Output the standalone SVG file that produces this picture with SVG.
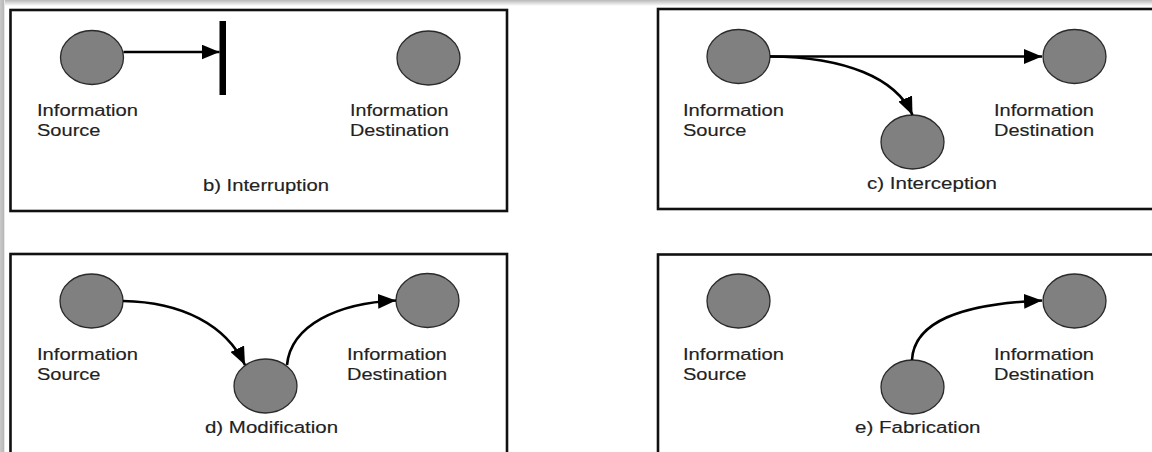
<svg xmlns="http://www.w3.org/2000/svg" width="1152" height="452" viewBox="0 0 1152 452">
  <defs>
    <linearGradient id="topShade" x1="0" y1="0" x2="0" y2="1">
      <stop offset="0" stop-color="#b8b8b8"/>
      <stop offset="1" stop-color="#ffffff"/>
    </linearGradient>
    <linearGradient id="leftShade" x1="0" y1="0" x2="1" y2="0">
      <stop offset="0" stop-color="#c9c9c9"/>
      <stop offset="0.7" stop-color="#b9b9b9"/>
      <stop offset="1" stop-color="#ffffff"/>
    </linearGradient>
    <marker id="arrow" markerUnits="userSpaceOnUse" markerWidth="19" markerHeight="15" refX="18" refY="7.5" orient="auto">
      <path d="M0,0 L18,7.5 L0,15 z" fill="#000"/>
    </marker>
    <style>
      .panel { fill: #ffffff; stroke: #111111; stroke-width: 2.6; }
      .node { fill: #808080; stroke: #2a2a2a; stroke-width: 1.3; }
      .edge { fill: none; stroke: #000000; stroke-width: 2.6; marker-end: url(#arrow); }
      .lbl { font-family: "Liberation Sans", Arial, sans-serif; font-size: 16px; fill: #222222; stroke: #222222; stroke-width: 0.15; }
    </style>
  </defs>

  <!-- page background with soft edge shading -->
  <rect x="0" y="0" width="1152" height="452" fill="#ffffff"/>
  <rect x="0" y="0" width="1152" height="6" fill="url(#topShade)"/>
  <rect x="0" y="0" width="5" height="452" fill="url(#leftShade)"/>

  <!-- panel frames -->
  <g id="panels">
    <rect class="panel" x="10.5" y="10" width="496.5" height="201"/>
    <rect class="panel" x="658" y="9" width="520" height="200"/>
    <rect class="panel" x="10.5" y="254" width="496.5" height="220"/>
    <rect class="panel" x="658" y="254.5" width="520" height="220"/>
  </g>

  <!-- b) Interruption -->
  <g id="b-source">
    <ellipse class="node" cx="92" cy="57.5" rx="31.5" ry="27"/>
    <text class="lbl" x="37" y="116" textLength="101" lengthAdjust="spacingAndGlyphs">Information</text>
    <text class="lbl" x="37" y="136" textLength="63.5" lengthAdjust="spacingAndGlyphs">Source</text>
  </g>
  <g id="b-destination">
    <ellipse class="node" cx="428.5" cy="58" rx="31.5" ry="27"/>
    <text class="lbl" x="350" y="116" textLength="98.5" lengthAdjust="spacingAndGlyphs">Information</text>
    <text class="lbl" x="350" y="136" textLength="99" lengthAdjust="spacingAndGlyphs">Destination</text>
  </g>
  <g id="b-break">
    <rect x="219.5" y="21" width="6.5" height="74" fill="#000"/>
  </g>
  <g id="b-caption">
    <text class="lbl" x="203" y="191" textLength="126" lengthAdjust="spacingAndGlyphs">b) Interruption</text>
  </g>

  <!-- c) Interception -->
  <g id="c-source">
    <ellipse class="node" cx="738.5" cy="56.5" rx="31.5" ry="27"/>
    <text class="lbl" x="683" y="116" textLength="101" lengthAdjust="spacingAndGlyphs">Information</text>
    <text class="lbl" x="683" y="136" textLength="63.5" lengthAdjust="spacingAndGlyphs">Source</text>
  </g>
  <g id="c-destination">
    <ellipse class="node" cx="1074.5" cy="56.5" rx="31.5" ry="27"/>
    <text class="lbl" x="994" y="116" textLength="100" lengthAdjust="spacingAndGlyphs">Information</text>
    <text class="lbl" x="994" y="136" textLength="100" lengthAdjust="spacingAndGlyphs">Destination</text>
  </g>
  <g id="c-interceptor">
    <ellipse class="node" cx="912.5" cy="142" rx="31.5" ry="27"/>
  </g>
  <g id="c-caption">
    <text class="lbl" x="867" y="189" textLength="130" lengthAdjust="spacingAndGlyphs">c) Interception</text>
  </g>

  <!-- d) Modification -->
  <g id="d-source">
    <ellipse class="node" cx="91.5" cy="301" rx="31.5" ry="27"/>
    <text class="lbl" x="37" y="360" textLength="101" lengthAdjust="spacingAndGlyphs">Information</text>
    <text class="lbl" x="37" y="380" textLength="63.5" lengthAdjust="spacingAndGlyphs">Source</text>
  </g>
  <g id="d-destination">
    <ellipse class="node" cx="427.5" cy="300.5" rx="31.5" ry="27"/>
    <text class="lbl" x="347" y="360" textLength="100" lengthAdjust="spacingAndGlyphs">Information</text>
    <text class="lbl" x="347" y="380" textLength="100" lengthAdjust="spacingAndGlyphs">Destination</text>
  </g>
  <g id="d-modifier">
    <ellipse class="node" cx="265.5" cy="386" rx="31.5" ry="27"/>
  </g>
  <g id="d-caption">
    <text class="lbl" x="205" y="433" textLength="133" lengthAdjust="spacingAndGlyphs">d) Modification</text>
  </g>

  <!-- e) Fabrication -->
  <g id="e-source">
    <ellipse class="node" cx="738.5" cy="301" rx="31.5" ry="27"/>
    <text class="lbl" x="683" y="360" textLength="101" lengthAdjust="spacingAndGlyphs">Information</text>
    <text class="lbl" x="683" y="380" textLength="63.5" lengthAdjust="spacingAndGlyphs">Source</text>
  </g>
  <g id="e-destination">
    <ellipse class="node" cx="1074.5" cy="301" rx="31.5" ry="27"/>
    <text class="lbl" x="994" y="360" textLength="100" lengthAdjust="spacingAndGlyphs">Information</text>
    <text class="lbl" x="994" y="380" textLength="100" lengthAdjust="spacingAndGlyphs">Destination</text>
  </g>
  <g id="e-fabricator">
    <ellipse class="node" cx="912.5" cy="387" rx="31.5" ry="27"/>
  </g>
  <g id="e-caption">
    <text class="lbl" x="855" y="433" textLength="125.5" lengthAdjust="spacingAndGlyphs">e) Fabrication</text>
  </g>

  <!-- connectors -->
  <g id="connectors">
    <path class="edge" d="M123.5,52 L219.5,52"/>
    <path class="edge" d="M770,56.5 L1042,56.5"/>
    <path class="edge" d="M770,56.5 C845,57 896,78 912.5,115"/>
    <path class="edge" d="M123,301 C182,302 226,325 245,365"/>
    <path class="edge" d="M287,365 C291,325 338,303 396,300.5"/>
    <path class="edge" d="M912,360 C914,322 960,304 1042,300.5"/>
  </g>
</svg>
